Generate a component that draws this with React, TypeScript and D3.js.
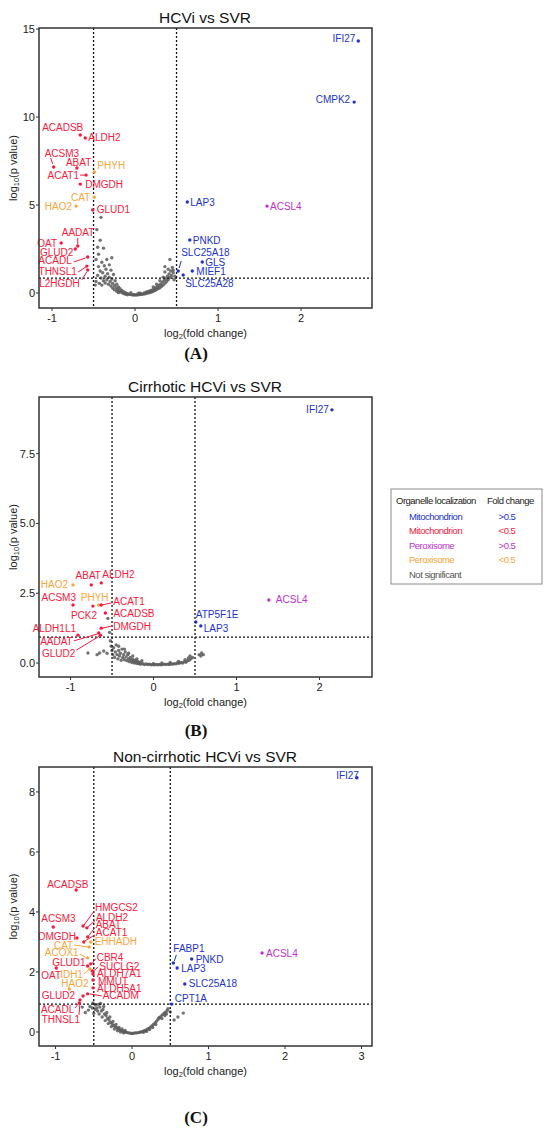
import React from 'react'
import * as d3 from 'd3'

// ---- data: panel A (HCVi vs SVR) ----
const genesA = ['ACADSB', 'ALDH2', 'ACSM3', 'ABAT', 'PHYH', 'ACAT1', 'DMGDH', 'CAT', 'HAO2', 'GLUD1', 'AADAT', 'OAT', 'GLUD2', 'ACADL', 'THNSL1', 'L2HGDH', 'IFI27', 'CMPK2', 'LAP3', 'ACSL4', 'PNKD', 'GLS', 'MIEF1', 'SLC25A18', 'SLC25A28']
const fcA = [-0.66, -0.6, -0.98, -0.7, -0.49, -0.59, -0.66, -0.49, -0.71, -0.51, -0.69, -0.89, -0.72, -0.57, -0.58, -0.57, 2.69, 2.64, 0.63, 1.59, 0.66, 0.81, 0.69, 0.52, 0.58]
const pA = [8.98, 8.81, 7.16, 7.1, 6.88, 6.7, 6.19, 5.45, 4.94, 4.72, 2.67, 2.84, 2.5, 2.05, 1.53, 1.31, 14.32, 10.85, 5.17, 4.94, 3.01, 1.76, 1.25, 1.25, 1.02]
const catA = ['md', 'md', 'md', 'md', 'pd', 'md', 'md', 'pd', 'pd', 'md', 'md', 'md', 'md', 'md', 'md', 'md', 'mu', 'mu', 'mu', 'pu', 'mu', 'mu', 'mu', 'mu', 'mu']
const greyA: [number, number][] = [
  [-0.41, 4.3], [-0.46, 3.6], [-0.42, 3.0], [-0.45, 2.6], [-0.38, 2.55], [-0.44, 2.2], [-0.28, 2.0], [-0.34, 1.9], [-0.47, 1.9], [-0.4, 1.75],
  [-0.31, 1.6], [-0.37, 1.55], [-0.44, 1.5], [-0.35, 1.35], [-0.29, 1.3], [-0.42, 1.25], [-0.39, 1.15], [-0.33, 1.1], [-0.26, 1.05], [-0.45, 1.0],
  [-0.36, 0.95], [-0.31, 0.9], [-0.41, 0.85], [-0.28, 0.8], [-0.34, 0.75], [-0.24, 0.7], [-0.38, 0.7], [-0.3, 0.65], [-0.36, 0.57], [-0.27, 0.55],
  [-0.22, 0.5], [-0.32, 0.5], [-0.25, 0.42], [-0.29, 0.4], [-0.2, 0.35], [-0.23, 0.3], [-0.27, 0.28], [-0.18, 0.25], [-0.21, 0.2], [-0.25, 0.18],
  [-0.16, 0.15], [-0.19, 0.12], [-0.22, 0.1], [-0.14, 0.08], [-0.17, 0.05], [-0.12, 0.03], [-0.2, 0.02], [-0.15, 0.0], [-0.1, -0.02], [-0.13, -0.04],
  [-0.08, -0.05], [-0.11, -0.07], [-0.06, -0.08], [-0.09, -0.1], [-0.04, -0.1], [-0.02, -0.12], [0.0, -0.12], [0.02, -0.12], [-0.01, -0.08], [0.04, -0.1],
  [0.06, -0.09], [0.03, -0.06], [0.08, -0.08], [0.1, -0.06], [0.07, -0.03], [0.12, -0.05], [0.14, -0.02], [0.11, 0.0], [0.16, 0.0], [0.13, 0.04],
  [0.18, 0.03], [0.15, 0.07], [0.2, 0.06], [0.17, 0.1], [0.22, 0.1], [0.19, 0.14], [0.24, 0.14], [0.21, 0.18], [0.26, 0.2], [0.23, 0.24],
  [0.28, 0.25], [0.25, 0.3], [0.3, 0.3], [0.27, 0.36], [0.32, 0.38], [0.29, 0.44], [0.34, 0.45], [0.31, 0.52], [0.36, 0.55], [0.33, 0.62],
  [0.38, 0.65], [0.35, 0.72], [0.4, 0.75], [0.37, 0.82], [0.42, 0.88], [0.39, 0.95], [0.44, 1.0], [0.41, 1.08], [0.46, 1.15], [0.36, 1.2],
  [0.43, 1.25], [0.4, 1.35], [0.45, 1.45], [0.36, 1.5], [0.42, 1.9], [0.46, 1.3], [0.34, 0.9], [0.3, 0.7], [0.26, 0.5], [0.22, 0.35],
  [-0.05, 0.02], [0.05, 0.0], [-0.48, 0.45], [0.47, 0.75], [0.48, 0.95], [-0.47, 0.65], [-0.43, 0.55], [-0.4, 0.45],
]

// ---- data: panel B (Cirrhotic HCVi vs SVR) ----
const genesB = ['HAO2', 'ABAT', 'ALDH2', 'ACSM3', 'PHYH', 'PCK2', 'ACAT1', 'ACADSB', 'ALDH1L1', 'DMGDH', 'AADAT', 'GLUD2', 'IFI27', 'ACSL4', 'ATP5F1E', 'LAP3']
const fcB = [-0.97, -0.75, -0.63, -0.97, -0.66, -0.73, -0.63, -0.58, -0.91, -0.63, -0.66, -0.64, 2.15, 1.39, 0.51, 0.57]
const pB = [2.8, 2.8, 2.87, 2.08, 2.08, 2.04, 2.08, 1.79, 1.0, 1.25, 1.08, 1.0, 9.07, 2.26, 1.47, 1.33]
const catB = ['pd', 'md', 'md', 'md', 'pd', 'md', 'md', 'md', 'md', 'md', 'md', 'md', 'mu', 'pu', 'mu', 'mu']
const greyB: [number, number][] = [
  [-0.79, 0.36], [-0.65, 0.36], [-0.6, 0.43], [-0.56, 0.35], [-0.68, 0.3], [-0.55, 1.6], [-0.53, 1.1], [-0.52, 0.8], [-0.51, 0.6], [-0.5, 0.45],
  [-0.49, 0.3], [-0.48, 0.55], [-0.47, 0.2], [-0.46, 0.4], [-0.45, 0.65], [-0.44, 0.3], [-0.43, 0.15], [-0.42, 0.45], [-0.41, 0.25], [-0.4, 0.35],
  [-0.39, 0.1], [-0.38, 0.5], [-0.37, 0.2], [-0.36, 0.3], [-0.35, 0.12], [-0.34, 0.4], [-0.33, 0.22], [-0.32, 0.08], [-0.31, 0.3], [-0.3, 0.15],
  [-0.29, 0.05], [-0.28, 0.2], [-0.27, 0.1], [-0.26, 0.02], [-0.25, 0.14], [-0.24, 0.06], [-0.23, 0.0], [-0.22, 0.1], [-0.21, 0.04], [-0.2, -0.02],
  [-0.19, 0.06], [-0.18, 0.0], [-0.17, -0.03], [-0.16, 0.03], [-0.15, -0.04], [-0.13, -0.02], [-0.11, -0.05], [-0.09, -0.03], [-0.07, -0.05], [-0.05, -0.04],
  [-0.03, -0.06], [-0.01, -0.05], [0.01, -0.06], [0.03, -0.05], [0.05, -0.06], [0.07, -0.05], [0.09, -0.06], [0.11, -0.05], [0.13, -0.04], [0.15, -0.05],
  [0.17, -0.04], [0.19, -0.05], [0.21, -0.03], [0.23, -0.04], [0.25, -0.02], [0.27, -0.03], [0.29, 0.0], [0.31, -0.01], [0.33, 0.02], [0.35, 0.0],
  [0.37, 0.05], [0.39, 0.03], [0.41, 0.08], [0.43, 0.1], [0.45, 0.15], [0.47, 0.2], [0.44, 0.25], [0.42, 0.18], [0.55, 0.3], [0.58, 0.36],
  [0.6, 0.3], [0.57, 0.25], [-0.35, 0.5], [-0.42, 0.6], [-0.3, 0.35], [-0.25, 0.25], [-0.2, 0.15], [-0.14, 0.08], [0.0, -0.02], [0.1, 0.0],
  [0.2, 0.02], [0.3, 0.06], [0.38, 0.12],
]

// ---- data: panel C (Non-cirrhotic HCVi vs SVR) ----
const genesC = ['ACADSB', 'HMGCS2', 'ALDH2', 'ABAT', 'ACSM3', 'DMGDH', 'ACAT1', 'CAT', 'EHHADH', 'ACOX1', 'GLUD1', 'CBR4', 'SUCLG2', 'IDH1', 'ALDH7A1', 'MMUT', 'ALDH5A1', 'HAO2', 'OAT', 'GLUD2', 'ACADM', 'ACADL', 'THNSL1', 'IFI27', 'ACSL4', 'FABP1', 'PNKD', 'LAP3', 'SLC25A18', 'CPT1A']
const fcC = [-0.73, -0.64, -0.59, -0.58, -1.03, -0.72, -0.63, -0.56, -0.54, -0.58, -0.58, -0.54, -0.52, -0.55, -0.51, -0.51, -0.51, -0.82, -0.99, -0.64, -0.58, -0.69, -0.68, 2.94, 1.7, 0.54, 0.78, 0.59, 0.69, 0.52]
const pC = [4.73, 3.53, 3.47, 3.17, 3.5, 3.13, 3.0, 2.83, 3.0, 2.47, 2.2, 2.27, 2.03, 2.1, 1.93, 1.73, 1.47, 1.43, 2.13, 1.2, 1.27, 0.97, 1.07, 8.47, 2.63, 2.3, 2.43, 2.13, 1.6, 0.93]
const catC = ['md', 'md', 'md', 'md', 'md', 'md', 'md', 'pd', 'pd', 'pd', 'md', 'md', 'md', 'pd', 'md', 'md', 'md', 'pd', 'md', 'md', 'md', 'md', 'md', 'mu', 'pu', 'mu', 'mu', 'mu', 'mu', 'mu']
const greyC: [number, number][] = [
  [-0.65, 0.83], [-0.57, 0.73], [-0.61, 0.65], [-0.55, 0.85], [-0.51, 0.97], [-0.48, 0.9], [-0.46, 0.8], [-0.44, 0.92], [-0.42, 0.83], [-0.4, 0.7],
  [-0.43, 0.6], [-0.38, 0.75], [-0.36, 0.6], [-0.39, 0.5], [-0.34, 0.55], [-0.32, 0.45], [-0.35, 0.38], [-0.3, 0.4], [-0.28, 0.32], [-0.31, 0.28],
  [-0.26, 0.27], [-0.24, 0.22], [-0.27, 0.18], [-0.22, 0.18], [-0.2, 0.14], [-0.23, 0.1], [-0.18, 0.1], [-0.16, 0.07], [-0.19, 0.04], [-0.14, 0.05],
  [-0.12, 0.03], [-0.15, 0.0], [-0.1, 0.01], [-0.08, -0.01], [-0.11, -0.03], [-0.06, -0.02], [-0.04, -0.03], [-0.02, -0.04], [0.0, -0.05], [0.02, -0.04],
  [0.04, -0.03], [0.06, -0.03], [0.08, -0.02], [0.1, -0.01], [0.12, 0.0], [0.14, 0.02], [0.16, 0.04], [0.18, 0.06], [0.2, 0.09], [0.22, 0.12],
  [0.24, 0.16], [0.26, 0.2], [0.28, 0.25], [0.3, 0.3], [0.32, 0.36], [0.34, 0.42], [0.36, 0.48], [0.38, 0.53], [0.4, 0.58], [0.42, 0.63],
  [0.44, 0.66], [0.46, 0.72], [0.35, 0.47], [0.43, 0.55], [0.39, 0.45], [0.31, 0.25], [0.27, 0.15], [0.23, 0.08], [0.19, 0.02], [0.15, -0.01],
  [0.45, 0.6], [0.47, 0.78], [0.5, 0.67], [0.6, 0.5], [0.67, 0.63], [0.55, 0.4], [-0.33, 0.65], [-0.29, 0.5], [-0.25, 0.35], [-0.21, 0.25],
  [-0.17, 0.15], [-0.13, 0.1], [-0.09, 0.05], [-0.45, 0.7], [-0.41, 0.95], [-0.37, 0.85], [-0.48, 0.75], [-0.52, 0.8], [-0.5, 0.62],
]

// legend rows
const legendNames = ['Mitochondrion', 'Mitochondrion', 'Peroxisome', 'Peroxisome', 'Not significant']
const legendFold = ['>0.5', '<0.5', '>0.5', '<0.5', '']
const legendCats = ['mu', 'md', 'pu', 'pd', 'ns']

const COLORS: Record<string, string> = {
  mu: '#2233cc',
  md: '#f8193d',
  pu: '#bb33cc',
  pd: '#f7a63c',
  ns: '#5a5a5a',
}

const SANS = '"Liberation Sans", Arial, Helvetica, sans-serif'
const SERIF = '"Liberation Serif", "Times New Roman", serif'

// label placement (pixel offsets from the point): dx, dy, anchor, optional leader [x1,y1,x2,y2]
type Lab = [number, number, string, number[]?]
const labelsA: Record<string, Lab> = {
  ACADSB: [3, -7, 'end'], ALDH2: [3, 0, 'start'], ACSM3: [-9, -14, 'start', [-1, -3, -3, -9]],
  ABAT: [-11, -6, 'start'], PHYH: [3, -6, 'start'], ACAT1: [-7, 0, 'end', [-1, 0, -6, 0]],
  DMGDH: [5, 0, 'start'], CAT: [-4, 0, 'end'], HAO2: [-4, 0, 'end'], GLUD1: [4, 0, 'start'],
  AADAT: [-16, -14, 'start', [0, -2, 0, -8]], OAT: [-4, 0, 'end'], GLUD2: [-2, 3, 'end'],
  ACADL: [-16, 4, 'end', [-2, 1, -14, 5]], THNSL1: [-10, 5, 'end', [-1, 1, -9, 6]],
  L2HGDH: [-8, 14, 'end', [-1, 2, -6, 10]], IFI27: [-3, -3, 'end'], CMPK2: [-4, -3, 'end'],
  LAP3: [3, 0, 'start'], ACSL4: [3, 0, 'start'], PNKD: [3, 0, 'start'], GLS: [3, 0, 'start'],
  MIEF1: [4, 0, 'start'], SLC25A18: [3, -19, 'start', [1, -3, 3, -10]], SLC25A28: [2, 8, 'start'],
}
const labelsB: Record<string, Lab> = {
  HAO2: [-5, 0, 'end'], ABAT: [-3, -9, 'middle'], ALDH2: [1, -8, 'start'], ACSM3: [3, -7, 'end'],
  PHYH: [-18, -7, 'start'], PCK2: [-22, 9, 'start'], ACAT1: [12, -3, 'start', [1, 0, 10, -2]],
  ACADSB: [8, 0, 'start'], ALDH1L1: [-2, -7, 'end'], DMGDH: [12, -2, 'start', [1, 0, 10, -2]],
  AADAT: [-26, 9, 'end', [-1, 1, -25, 8]], GLUD2: [-25, 18, 'end', [-1, 1, -24, 15]],
  IFI27: [-3, 0, 'end'], ACSL4: [7, 0, 'start'], ATP5F1E: [0, -8, 'start'], LAP3: [3, 3, 'start'],
}
const labelsC: Record<string, Lab> = {
  ACADSB: [-29, -6, 'start'], HMGCS2: [12, -19, 'start', [1, -1, 11, -15]],
  ALDH2: [9, -10, 'start', [1, -1, 8, -7]], ABAT: [8, -12, 'start', [1, -1, 7, -9]],
  ACSM3: [-12, -8, 'start'], DMGDH: [-1, -2, 'end'], ACAT1: [12, -9, 'start', [1, -1, 11, -7]],
  CAT: [-16, -2, 'end', [-1, 0, -15, -2]], EHHADH: [4, 0, 'start'], ACOX1: [-9, -5, 'end', [-1, 0, -8, -4]],
  GLUD1: [-2, -3, 'end'], CBR4: [6, -6, 'start', [1, 0, 5, -5]], SUCLG2: [7, -5, 'start', [1, 0, 6, -4]],
  IDH1: [-7, 6, 'end', [-1, 1, -6, 5]], ALDH7A1: [4, -1, 'start'], MMUT: [5, 1, 'start'],
  ALDH5A1: [4, 1, 'start'], HAO2: [-8, -6, 'start'], OAT: [-15, 7, 'start'], GLUD2: [-8, 0, 'end'],
  ACADM: [15, 2, 'start', [2, 0, 14, 2]], ACADL: [-5, 7, 'end', [-1, 1, -4, 5]],
  THNSL1: [0, 20, 'end', [0, 2, -1, 15]], IFI27: [2, -2, 'end'], ACSL4: [4, 0, 'start'],
  FABP1: [0, -14, 'start', [1, -2, 3, -8]], PNKD: [4, 0, 'start'], LAP3: [4, 0, 'start'],
  SLC25A18: [4, 0, 'start'], CPT1A: [3, -6, 'start'],
}

const panels = [
  {
    title: 'HCVi vs SVR', tag: '(A)', top: 28, bottom: 308,
    xDomain: [-1.157, 2.855], yDomain: [-0.852, 15.06], xTicks: [-1, 0, 1, 2], yTicks: [0, 5, 10, 15], yFmt: '',
    pThr: 0.85, genes: genesA, fc: fcA, p: pA, cat: catA, grey: greyA, labels: labelsA,
  },
  {
    title: 'Cirrhotic HCVi vs SVR', tag: '(B)', top: 397, bottom: 677,
    xDomain: [-1.38, 2.633], yDomain: [-0.5, 9.53], xTicks: [-1, 0, 1, 2], yTicks: [0, 2.5, 5, 7.5], yFmt: '.1f',
    pThr: 0.93, genes: genesB, fc: fcB, p: pB, cat: catB, grey: greyB, labels: labelsB,
  },
  {
    title: 'Non-cirrhotic HCVi vs SVR', tag: '(C)', top: 767, bottom: 1046,
    xDomain: [-1.216, 3.137], yDomain: [-0.467, 8.83], xTicks: [-1, 0, 1, 2, 3], yTicks: [0, 2, 4, 6, 8], yFmt: '',
    pThr: 0.93, genes: genesC, fc: fcC, p: pC, cat: catC, grey: greyC, labels: labelsC,
  },
]

const LEFT = 39
const RIGHT = 372

function Panel({ cfg }: { cfg: any }) {
  const x = d3.scaleLinear().domain(cfg.xDomain).range([LEFT, RIGHT])
  const y = d3.scaleLinear().domain(cfg.yDomain).range([cfg.bottom, cfg.top])
  const fmt = cfg.yFmt ? d3.format(cfg.yFmt) : (v: number) => String(v)
  const midX = (LEFT + RIGHT) / 2
  const midY = (cfg.top + cfg.bottom) / 2

  return (
    <g>
      <text x={205} y={cfg.top - 11} textAnchor="middle" dominantBaseline="central"
        fontFamily={SANS} fontSize={15.5} fill="#111">{cfg.title}</text>

      {/* non significant cloud */}
      {cfg.grey.map((d: [number, number], i: number) => (
        <circle key={'g' + i} cx={x(d[0])} cy={y(d[1])} r={1.7} fill={COLORS.ns} opacity={0.85} />
      ))}

      {/* thresholds */}
      {[-0.5, 0.5].map(v => (
        <line key={v} x1={x(v)} x2={x(v)} y1={cfg.top} y2={cfg.bottom}
          stroke="#111" strokeWidth={1.3} strokeDasharray="2,2" />
      ))}
      <line x1={LEFT} x2={RIGHT} y1={y(cfg.pThr)} y2={y(cfg.pThr)}
        stroke="#111" strokeWidth={1.3} strokeDasharray="2,2" />

      {/* significant genes */}
      {cfg.genes.map((g: string, i: number) => {
        const px = x(cfg.fc[i])
        const py = y(cfg.p[i])
        const col = COLORS[cfg.cat[i]]
        const lab: Lab = cfg.labels[g] || [3, 0, 'start']
        const ld = lab[3]
        return (
          <g key={g}>
            {ld && (
              <line x1={px + ld[0]} y1={py + ld[1]} x2={px + ld[2]} y2={py + ld[3]}
                stroke={col} strokeWidth={1} />
            )}
            <circle cx={px} cy={py} r={1.7} fill={col} />
            <text x={px + lab[0]} y={py + lab[1]} textAnchor={lab[2]} dominantBaseline="central"
              fontFamily={SANS} fontSize={10} fill={col}>{g}</text>
          </g>
        )
      })}

      {/* frame */}
      <rect x={LEFT} y={cfg.top} width={RIGHT - LEFT} height={cfg.bottom - cfg.top}
        fill="none" stroke="#333" strokeWidth={1.5} />

      {/* y axis */}
      {cfg.yTicks.map((t: number) => (
        <g key={'y' + t}>
          <line x1={LEFT - 3} x2={LEFT} y1={y(t)} y2={y(t)} stroke="#333" strokeWidth={1} />
          <text x={LEFT - 4} y={y(t)} textAnchor="end" dominantBaseline="central"
            fontFamily={SANS} fontSize={11} fill="#222">{fmt(t)}</text>
        </g>
      ))}
      <text transform={`translate(13,${midY}) rotate(-90)`} textAnchor="middle" dominantBaseline="central"
        fontFamily={SANS} fontSize={11} fill="#222">
        log<tspan fontSize={7.5} dy={3}>10</tspan><tspan dy={-3}>(p value)</tspan>
      </text>

      {/* x axis */}
      {cfg.xTicks.map((t: number) => (
        <g key={'x' + t}>
          <line x1={x(t)} x2={x(t)} y1={cfg.bottom} y2={cfg.bottom + 3} stroke="#333" strokeWidth={1} />
          <text x={x(t)} y={cfg.bottom + 10} textAnchor="middle" dominantBaseline="central"
            fontFamily={SANS} fontSize={11} fill="#222">{t < 0 ? '-' + Math.abs(t) : t}</text>
        </g>
      ))}
      <text x={midX} y={cfg.bottom + 25} textAnchor="middle" dominantBaseline="central"
        fontFamily={SANS} fontSize={11} fill="#222">
        log<tspan fontSize={7.5} dy={3}>2</tspan><tspan dy={-3}>(fold change)</tspan>
      </text>
    </g>
  )
}

function Legend() {
  const lx = 391, ly = 489, lw = 151, lh = 95
  const rows = legendNames.map((n, i) => ({ n, f: legendFold[i], c: COLORS[legendCats[i]] }))
  return (
    <g fontFamily={SANS} fontSize={9.5} letterSpacing={-0.5}>
      <rect x={lx} y={ly} width={lw} height={lh} fill="#fff" stroke="#8a8a8a" strokeWidth={1} />
      <text x={lx + 5} y={ly + 11} dominantBaseline="central" fill="#222">Organelle localization</text>
      <text x={lx + 96} y={ly + 11} dominantBaseline="central" fill="#222">Fold change</text>
      {rows.map((r, i) => (
        <g key={i}>
          <text x={lx + 18} y={ly + 27 + i * 14.5} dominantBaseline="central"
            fill={i === 4 ? '#555' : r.c}>{r.n}</text>
          <text x={lx + 116} y={ly + 27 + i * 14.5} textAnchor="middle" dominantBaseline="central"
            fill={r.c}>{r.f}</text>
        </g>
      ))}
    </g>
  )
}

export default function App() {
  const tagY = [353, 730, 1117]
  return (
    <svg width={550} height={1128} style={{ position: 'absolute', left: 0, top: 0, background: '#fff' }}>
      <rect width={550} height={1128} fill="#fff" />
      {panels.map((cfg, i) => (
        <g key={cfg.tag}>
          <Panel cfg={cfg} />
          <text x={196} y={tagY[i]} textAnchor="middle" dominantBaseline="central"
            fontFamily={SERIF} fontWeight="bold" fontSize={17} fill="#111">{cfg.tag}</text>
        </g>
      ))}
      <Legend />
    </svg>
  )
}
